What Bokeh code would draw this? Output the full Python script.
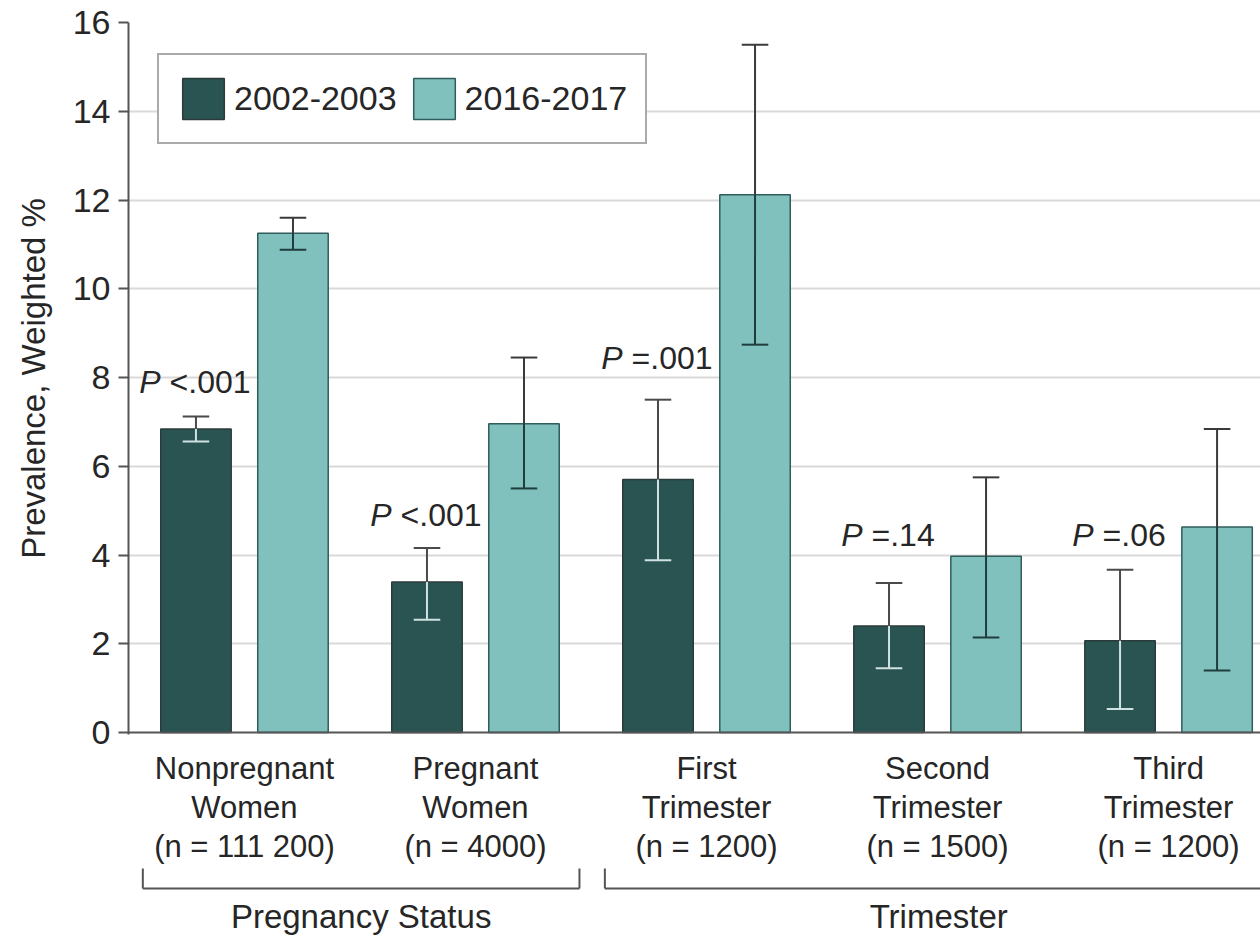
import numpy as np
from bokeh.plotting import figure
from bokeh.models import Range1d, FixedTicker, Legend, LegendItem, Span
from bokeh.layouts import column
from bokeh.embed import file_html
from bokeh.resources import INLINE
from bokeh.core.properties import value

# ---------------- data ----------------
categories = ["Nonpregnant\nWomen\n(n = 111 200)",
              "Pregnant\nWomen\n(n = 4000)",
              "First\nTrimester\n(n = 1200)",
              "Second\nTrimester\n(n = 1500)",
              "Third\nTrimester\n(n = 1200)"]
series_names = ["2002-2003", "2016-2017"]
prev_2002 = [6.84, 3.39, 5.70, 2.40, 2.07]
lower_2002 = [6.56, 2.54, 3.88, 1.45, 0.53]
upper_2002 = [7.12, 4.16, 7.50, 3.37, 3.67]
prev_2016 = [11.25, 6.96, 12.12, 3.97, 4.63]
lower_2016 = [10.88, 5.50, 8.74, 2.14, 1.40]
upper_2016 = [11.60, 8.45, 15.50, 5.75, 6.84]
p_values = ["<.001", "<.001", "=.001", "=.14", "=.06"]
p_label_y = [7.64, 4.66, 8.20, 4.21, 4.21]
group_names = ["Pregnancy Status", "Trimester"]
group_members = [[0, 1], [2, 3, 4]]
y_ticks = [0, 2, 4, 6, 8, 10, 12, 14, 16]

# ---------------- style ----------------
DARK = "#2a5452"
LIGHT = "#80c1be"
AXIS = "#555555"
TEXT = "#262626"
GRID = "#d9d9d9"
FONT = "Liberation Sans"
YOFF = -11  # baseline correction for text glyphs (screen px)

W = 1260
x = np.arange(len(categories), dtype=float)
OFF, BW, CAP = 0.21, 0.305, 0.115
x_start, x_end = -0.502, 4.398

H1 = 752
p = figure(width=W, height=H1, x_range=Range1d(x_start, x_end),
           y_range=Range1d(-0.045, 16), output_backend="svg", title=None,
           toolbar_location=None, x_axis_location=None,
           min_border_left=128, min_border_right=0, min_border_top=22,
           min_border_bottom=18, outline_line_color=None)
p.background_fill_color = "white"
p.xgrid.visible = False
p.ygrid.ticker = FixedTicker(ticks=y_ticks[1:])
p.ygrid.grid_line_color = GRID
p.ygrid.grid_line_width = 2

yax = p.yaxis[0]
yax.ticker = FixedTicker(ticks=y_ticks)
yax.minor_tick_line_color = None
yax.major_tick_in = 0
yax.major_tick_out = 10
yax.major_tick_line_color = AXIS
yax.major_tick_line_width = 2
yax.axis_line_color = AXIS
yax.axis_line_width = 2
yax.major_label_text_font = FONT
yax.major_label_text_font_size = "34px"
yax.major_label_text_color = TEXT
yax.major_label_standoff = 8
yax.axis_label = "Prevalence, Weighted %"
yax.axis_label_text_font = FONT
yax.axis_label_text_font_style = "normal"
yax.axis_label_text_font_size = "33px"
yax.axis_label_text_color = TEXT
yax.axis_label_standoff = 18

p.add_layout(Span(location=0, dimension="width", line_color=AXIS, line_width=2))

r1 = p.vbar(x=x - OFF, top=prev_2002, width=BW, fill_color=DARK,
            line_color="#2b3b3b", line_width=1.5)
r2 = p.vbar(x=x + OFF, top=prev_2016, width=BW, fill_color=LIGHT,
            line_color="#2f5d5b", line_width=1.5)

# error bars
def error_bars(xs, top, lo, hi, above_col, inside_col):
    top, lo, hi = np.array(top), np.array(lo), np.array(hi)
    p.segment(x0=xs, x1=xs, y0=top, y1=hi, line_color=above_col, line_width=2)
    p.segment(x0=xs - CAP / 2, x1=xs + CAP / 2, y0=hi, y1=hi, line_color=above_col, line_width=2)
    p.segment(x0=xs, x1=xs, y0=lo, y1=top, line_color=inside_col, line_width=2)
    p.segment(x0=xs - CAP / 2, x1=xs + CAP / 2, y0=lo, y1=lo, line_color=inside_col, line_width=2)

error_bars(x - OFF, prev_2002, lower_2002, upper_2002, "#4a4a4a", "#cfe2e1")
error_bars(x + OFF, prev_2016, lower_2016, upper_2016, "#3a3a3a", "#1f3d3d")

# P-value labels (italic P + regular rest), centred over the dark bar
P_FS = 32
cw = {"<": 0.584, "=": 0.584, ".": 0.278}
rest_w = [sum(cw.get(c, 0.556) for c in s) * P_FS for s in p_values]
P_W, GAP = 0.667 * P_FS * 0.9, 9
tot = [P_W + GAP + rw for rw in rest_w]
p.text(x=x - OFF, y=p_label_y, text=["P"] * len(p_values),
       x_offset=[-t / 2 + P_W for t in tot], y_offset=YOFF, text_align="right",
       text_baseline="alphabetic", text_font=value(FONT),
       text_font_style="italic", text_font_size=f"{P_FS}px", text_color=TEXT)
p.text(x=x - OFF, y=p_label_y, text=p_values,
       x_offset=[-t / 2 + P_W + GAP for t in tot], y_offset=YOFF, text_align="left",
       text_baseline="alphabetic", text_font=value(FONT),
       text_font_size=f"{P_FS}px", text_color=TEXT)

legend = Legend(items=[LegendItem(label=series_names[0], renderers=[r1]),
                       LegendItem(label=series_names[1], renderers=[r2])],
                location=(29, 590), orientation="horizontal",
                glyph_width=52, glyph_height=51, label_standoff=5, spacing=11,
                padding=18, margin=0,
                label_text_font=FONT, label_text_font_size="34px",
                label_text_color=TEXT, border_line_color=AXIS,
                border_line_width=2, background_fill_alpha=1.0)
p.add_layout(legend)

# ---------------- lower panel: category labels & group brackets ----------------
H2 = 186
q = figure(width=W, height=H2, x_range=p.x_range, y_range=Range1d(H2, 0),
           output_backend="svg", toolbar_location=None, title=None,
           x_axis_location=None, y_axis_location=None,
           min_border_left=128, min_border_right=0, min_border_top=0,
           min_border_bottom=0, outline_line_color=None)
q.grid.visible = False

lines = [c.split("\n") for c in categories]
for k in range(3):
    q.text(x=x, y=[27 + 39 * k] * len(x), text=[l[k] for l in lines],
           y_offset=YOFF, text_align="center", text_baseline="alphabetic",
           text_font=value(FONT), text_font_size="31px", text_color=TEXT)

for name, mem in zip(group_names, group_members):
    s, e = mem[0] - 0.44, mem[-1] + 0.45
    q.segment(x0=[s], x1=[e], y0=[136], y1=[136], line_color=AXIS, line_width=2)
    q.segment(x0=[s, e], x1=[s, e], y0=[116, 116], y1=[136, 136],
              line_color=AXIS, line_width=2)
    q.text(x=[(s + e) / 2], y=[175], text=[name], y_offset=YOFF,
           text_align="center", text_baseline="alphabetic",
           text_font=value(FONT), text_font_size="33px", text_color=TEXT)

layout = column(p, q, spacing=0)
open("out.html", "w").write(file_html(layout, INLINE))
